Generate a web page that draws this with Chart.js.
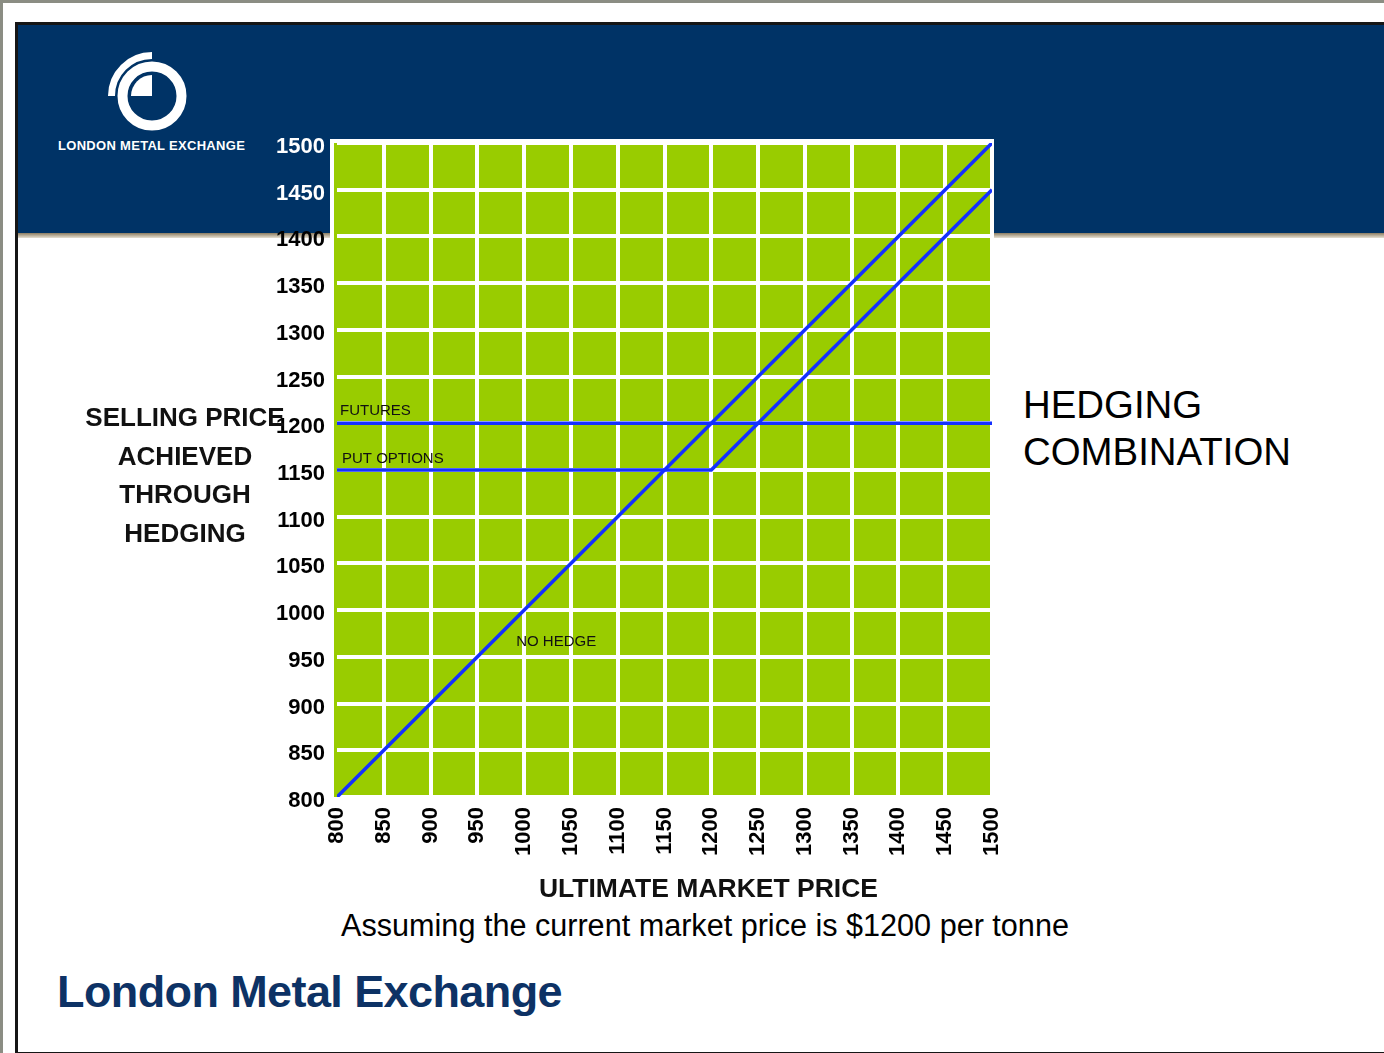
<!DOCTYPE html>
<html>
<head>
<meta charset="utf-8">
<title>Hedging combination</title>
<script src="https://cdn.jsdelivr.net/npm/chart.js@4.4.1/dist/chart.umd.min.js"></script>
<style>
    body {
        margin: 0;
        width: 1384px;
        height: 1053px;
        overflow: hidden;
        position: relative;
        background: #8b8d83;
        font-family: "Liberation Sans", Arial, sans-serif;
    }
    .slide { position: absolute; left: 3px; top: 3px; right: 0; bottom: 0; background: #fff; }
    .frame { position: absolute; left: 15px; top: 22px; width: 1400px; height: 1027px; border: 3px solid #161616; }
    .header { position: absolute; left: 18px; top: 25px; right: 0; height: 208px; background: #003366; }
    .shadow { position: absolute; left: 18px; top: 233px; right: 0; height: 5px; background: linear-gradient(#8c7d62, #e6e0d2); }
    .logo { position: absolute; left: 100px; top: 45px; }
    .logo-text { position: absolute; left: 58px; top: 138px; color: #fff; font-size: 13px; font-weight: bold; letter-spacing: 0.3px; line-height: 16px; white-space: nowrap; }
    #chart { position: absolute; left: 0; top: 0; z-index: 2; }
    .side-label { position: absolute; left: 60px; top: 398px; width: 250px; text-align: center; font-size: 26px; font-weight: bold; line-height: 38.5px; color: #111; z-index: 3; }
    .combo { position: absolute; left: 1023px; top: 381px; font-size: 38.4px; line-height: 47px; color: #000; }
    .note { position: absolute; left: 255px; top: 907px; width: 900px; text-align: center; font-size: 30.6px; line-height: 36px; color: #000; }
    .lme { position: absolute; left: 57px; top: 966px; font-size: 45px; font-weight: bold; letter-spacing: -0.6px; line-height: 52px; color: #0d3265; }
</style>
</head>
<body>
<div class="slide"></div>
<div class="frame"></div>
<div class="header"></div>
<div class="shadow"></div>

<svg class="logo" width="110" height="95" viewBox="100 45 110 95">
    <circle cx="152" cy="96" r="29.5" fill="none" stroke="#fff" stroke-width="10"/>
    <path d="M152,96 L131,96 A21,21 0 0,1 152,75 Z" fill="#fff"/>
    <path d="M111.5,96 A40.5,40.5 0 0,1 152,55.5" fill="none" stroke="#fff" stroke-width="7"/>
</svg>
<div class="logo-text">LONDON METAL EXCHANGE</div>

<canvas id="chart" width="1384" height="1053"></canvas>

<div class="side-label">SELLING PRICE<br>ACHIEVED<br>THROUGH<br>HEDGING</div>
<div class="combo">HEDGING<br>COMBINATION</div>
<div class="note">Assuming the current market price is $1200 per tonne</div>
<div class="lme">London Metal Exchange</div>

<script>
// market price (x) and selling price achieved (y)
const noHedgeX = [800, 1500];
const noHedgeY = [800, 1500];
const futuresX = [800, 1500];
const futuresY = [1200, 1200];
const putOptionsX = [800, 1200, 1500];
const putOptionsY = [1150, 1150, 1450];

const axisMin = 800;
const axisMax = 1500;
const axisStep = 50;

const lineNames = ['NO HEDGE', 'FUTURES', 'PUT OPTIONS'];
const xTitle = 'ULTIMATE MARKET PRICE';

const blue = '#1430ff';
const green = '#99cc00';
const font = '"Liberation Sans", Arial, sans-serif';

function toPoints(xs, ys) {
    return xs.map((x, i) => ({x: x, y: ys[i]}));
}

// green plot area with a white frame behind the grid
const plotBackground = {
    id: 'plotBackground',
    beforeDraw(chart) {
        const {ctx, chartArea: a} = chart;
        ctx.save();
        ctx.fillStyle = '#fff';
        ctx.fillRect(a.left - 7, a.top - 4, a.right - a.left + 9, a.bottom - a.top + 6);
        ctx.fillStyle = green;
        ctx.fillRect(a.left - 3, a.top, a.right - a.left + 3, a.bottom - a.top);
        ctx.restore();
    }
};

// small labels next to each line, and the x axis title (sits right of centre)
const lineLabels = {
    id: 'lineLabels',
    afterDatasetsDraw(chart) {
        const {ctx, chartArea: a, scales: {x, y}} = chart;
        const notes = [
            {text: lineNames[1], x: futuresX[0], y: futuresY[0], dx: 3, dy: -12},
            {text: lineNames[2], x: putOptionsX[0], y: putOptionsY[0], dx: 5, dy: -11},
            {text: lineNames[0], x: 1000, y: 1000, dx: -8, dy: 32},
        ];
        ctx.save();
        ctx.font = '15px ' + font;
        ctx.fillStyle = '#111';
        ctx.textAlign = 'left';
        ctx.textBaseline = 'middle';
        notes.forEach(n => {
            ctx.fillText(n.text, x.getPixelForValue(n.x) + n.dx, y.getPixelForValue(n.y) + n.dy);
        });

        ctx.font = 'bold 26.5px ' + font;
        ctx.textAlign = 'center';
        ctx.fillText(xTitle, (a.left + a.right) / 2 + 44, a.bottom + 93);
        ctx.restore();
    }
};

let hedge = document.getElementById('chart');
let hedgeChart = new Chart(hedge, {
    type: 'line',
    data: {
        datasets: [{
            label: lineNames[0],
            data: toPoints(noHedgeX, noHedgeY),
        }, {
            label: lineNames[1],
            data: toPoints(futuresX, futuresY),
        }, {
            label: lineNames[2],
            data: toPoints(putOptionsX, putOptionsY),
        }]
    },
    options: {
        responsive: false,
        animation: false,
        layout: {
            padding: {left: 260, right: 392, top: 143, bottom: 147}
        },
        elements: {
            line: {borderColor: blue, borderWidth: 3.5, tension: 0},
            point: {radius: 0}
        },
        plugins: {
            legend: {display: false},
            tooltip: {enabled: false}
        },
        scales: {
            x: {
                type: 'linear',
                min: axisMin,
                max: axisMax,
                border: {display: false},
                grid: {
                    color: ctx => ctx.tick && ctx.tick.value === axisMin ? 'rgba(0,0,0,0)' : '#fff',
                    lineWidth: 4,
                    drawTicks: false
                },
                ticks: {
                    stepSize: axisStep,
                    autoSkip: false,
                    minRotation: 90,
                    maxRotation: 90,
                    padding: 10,
                    color: '#000',
                    callback: v => String(v),
                    font: {family: font, size: 22, weight: 'bold'}
                },
                afterFit: s => {
                    s.height = 109;
                    s.paddingLeft = 0;
                    s.paddingRight = 0;
                }
            },
            y: {
                min: axisMin,
                max: axisMax,
                border: {display: false},
                grid: {
                    color: '#fff',
                    lineWidth: 4,
                    drawTicks: false
                },
                ticks: {
                    stepSize: axisStep,
                    padding: 12,
                    labelOffset: 4,
                    color: ctx => ctx.tick.value >= 1450 ? '#fff' : '#000',
                    callback: v => String(v),
                    font: {family: font, size: 22, weight: 'bold'}
                },
                afterFit: s => {
                    s.width = 77;
                    s.paddingTop = 0;
                    s.paddingBottom = 0;
                }
            }
        }
    },
    plugins: [plotBackground, lineLabels]
});
</script>
</body>
</html>
